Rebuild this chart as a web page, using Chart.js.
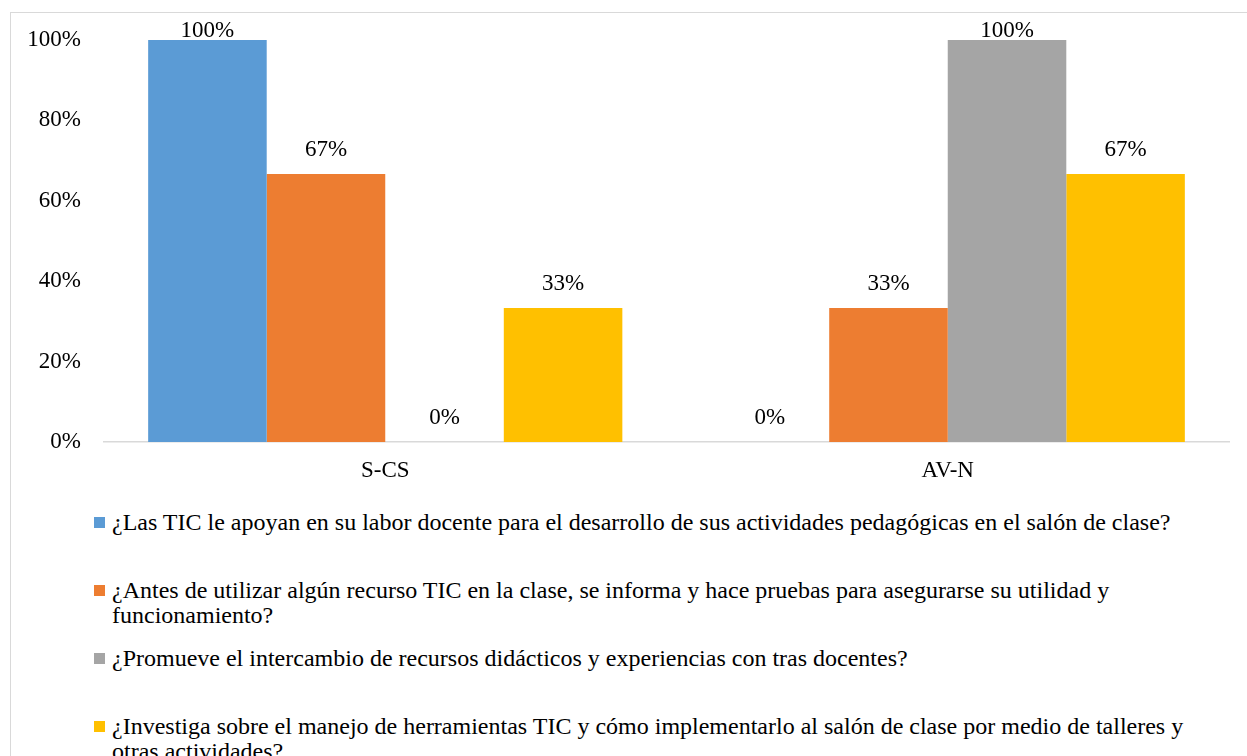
<!DOCTYPE html>
<html>
<head>
<meta charset="utf-8">
<script src="https://cdn.jsdelivr.net/npm/chart.js@4/dist/chart.umd.min.js"></script>
<style>
  html, body { margin:0; padding:0; background:#fff; width:1247px; height:756px; overflow:hidden; }
  #frame { position:absolute; left:10px; top:12px; width:1260px; height:780px; border:1px solid #d9d9d9; box-sizing:border-box; }
  #c { position:absolute; left:0; top:0; }
  #legend { position:absolute; left:0; top:0; font-family:'Liberation Serif','Times New Roman',serif; font-size:24px; line-height:25px; color:#000; }
  .item { position:absolute; left:94px; width:1120px; }
  .sw { position:absolute; left:0; top:7px; width:11px; height:11px; }
  .txt { position:absolute; left:18px; width:1090px; }
</style>
</head>
<body>
<div id="frame"></div>
<canvas id="c" width="1247" height="500"></canvas>
<div id="legend"></div>
<script>
const categories = ['S-CS', 'AV-N'];
const seriesNames = [
  '¿Las TIC le apoyan en su labor docente para el desarrollo de sus actividades pedagógicas en el salón de clase?',
  '¿Antes de utilizar algún recurso TIC en la clase, se informa y hace pruebas para asegurarse su utilidad y funcionamiento?',
  '¿Promueve el intercambio de recursos didácticos y experiencias con tras docentes?',
  '¿Investiga sobre el manejo de herramientas TIC y cómo implementarlo al salón de clase por medio de talleres y otras actividades?'
];
const series1 = [100, 0];
const series2 = [66.67, 33.33];
const series3 = [0, 100];
const series4 = [33.33, 66.67];
const seriesColors = ['#5B9BD5', '#ED7D31', '#A5A5A5', '#FFC000'];
const yTicks = [0, 20, 40, 60, 80, 100];

const FONT = "'Liberation Serif', 'Times New Roman', serif";
const allSeries = [series1, series2, series3, series4];

const dataLabels = {
  id: 'dataLabels',
  afterDatasetsDraw(chart) {
    const ctx = chart.ctx;
    ctx.save();
    ctx.font = '23px ' + FONT;
    ctx.fillStyle = '#000';
    ctx.textAlign = 'center';
    ctx.textBaseline = 'middle';
    chart.data.datasets.forEach((ds, i) => {
      const meta = chart.getDatasetMeta(i);
      meta.data.forEach((bar, j) => {
        const v = ds.data[j];
        const y = Math.max(bar.y - 24, 31);
        ctx.fillText(Math.round(v) + '%', bar.x, y);
      });
    });
    ctx.restore();
  }
};

new Chart(document.getElementById('c'), {
  type: 'bar',
  data: {
    labels: categories,
    datasets: allSeries.map((d, i) => ({
      label: seriesNames[i],
      data: d,
      backgroundColor: seriesColors[i],
      borderWidth: 0,
      categoryPercentage: 0.843,
      barPercentage: 1.0
    }))
  },
  options: {
    responsive: false,
    animation: false,
    devicePixelRatio: 1,
    layout: { padding: { top: 40, right: 18, left: 0, bottom: 0 } },
    plugins: { legend: { display: false }, tooltip: { enabled: false } },
    scales: {
      x: {
        grid: { display: false, drawTicks: false },
        border: { display: true, color: '#d9d9d9', width: 1.5 },
        ticks: { color: '#000', font: { family: FONT, size: 23 }, padding: 15 },
        afterFit: s => { s.height = 58; }
      },
      y: {
        min: 0, max: 100,
        grid: { display: false, drawTicks: false },
        border: { display: false },
        afterBuildTicks: s => { s.ticks = yTicks.map(v => ({ value: v })); },
        ticks: { color: '#000', font: { family: FONT, size: 23 }, padding: 23, callback: v => v + '%' },
        afterFit: s => { s.width = 104; }
      }
    }
  },
  plugins: [dataLabels]
});

// legend (HTML, real text)
const legend = document.getElementById('legend');
seriesNames.forEach((name, i) => {
  const it = document.createElement('div');
  it.className = 'item';
  it.style.top = (510 + 68 * i) + 'px';
  const sw = document.createElement('div');
  sw.className = 'sw';
  sw.style.background = seriesColors[i];
  const tx = document.createElement('div');
  tx.className = 'txt';
  tx.textContent = name;
  it.appendChild(sw);
  it.appendChild(tx);
  legend.appendChild(it);
});
</script>
</body>
</html>
